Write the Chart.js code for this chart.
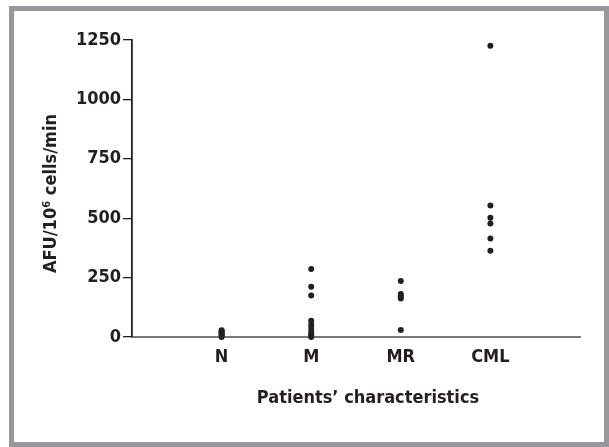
<!DOCTYPE html>
<html>
<head>
<meta charset="utf-8">
<script src="https://cdn.jsdelivr.net/npm/chart.js@4"></script>
<style>
  html, body { margin: 0; padding: 0; background: #fff; }
  #frame {
    position: absolute; left: 9px; top: 6px;
    width: 590px; height: 431px;
    border: 5px solid #98989c;
    background: #fff;
  }
  canvas { display: block; }
</style>
</head>
<body>
<div id="frame"><canvas id="chart" width="590" height="431"></canvas></div>
<script>
// groups on the x axis
const categories = ["N", "M", "MR", "CML"];
// AFU/10^6 cells/min
const valuesN = [0, 5, 10, 15, 20, 25, 28];
const valuesM = [286, 212, 175, 68, 52, 38, 22, 12, 5, 0];
const valuesMR = [236, 181, 172, 162, 29];
const valuesCML = [1226, 553, 502, 478, 415, 363];
const yTicks = [0, 250, 500, 750, 1000, 1250];

const INK = "#231f20";
const FONT = "'DejaVu Sans Condensed', 'Liberation Sans Narrow', 'Roboto', sans-serif";

const groups = [valuesN, valuesM, valuesMR, valuesCML];
const points = [];
groups.forEach((vals, i) => {
    vals.forEach(v => points.push({ x: i + 1, y: v }));
});

// axis titles drawn by hand so they sit where the original has them
const titlePlugin = {
    id: "axisTitles",
    afterDraw(chart) {
        const ctx = chart.ctx;
        const area = chart.chartArea;
        ctx.save();
        ctx.fillStyle = INK;
        ctx.font = "bold 18px " + FONT;
        ctx.textAlign = "center";
        ctx.textBaseline = "middle";
        ctx.fillText("Patients\u2019 characteristics", (area.left + area.right) / 2 + 12, area.bottom + 61);
        ctx.translate(37, (area.top + area.bottom) / 2 + 5);
        ctx.rotate(-Math.PI / 2);
        ctx.fillText("AFU/10\u2076 cells/min", 0, 0);
        ctx.restore();
    }
};

new Chart(document.getElementById("chart"), {
    type: "scatter",
    data: {
        datasets: [{
            data: points,
            backgroundColor: INK,
            borderColor: INK,
            borderWidth: 0,
            pointRadius: 3,
            pointHoverRadius: 3,
            clip: false
        }]
    },
    options: {
        responsive: false,
        animation: false,
        events: [],
        layout: { padding: { top: 29, right: 24, left: 0, bottom: 0 } },
        plugins: { legend: { display: false }, tooltip: { enabled: false } },
        scales: {
            x: {
                type: "linear",
                min: 0,
                max: 5,
                afterFit: s => { s.height = 105; },
                afterBuildTicks: s => { s.ticks = [0, 1, 2, 3, 4, 5].map(v => ({ value: v })); },
                grid: { display: false, drawTicks: false },
                border: { display: true, color: "#7a7a7a", width: 2 },
                ticks: {
                    autoSkip: false,
                    maxRotation: 0,
                    padding: 10,
                    color: INK,
                    font: { family: FONT, size: 18, weight: "bold" },
                    callback: v => categories[v - 1] || ""
                }
            },
            y: {
                min: 0,
                max: 1250,
                afterFit: s => { s.width = 118; },
                afterBuildTicks: s => { s.ticks = yTicks.map(v => ({ value: v })); },
                grid: { drawOnChartArea: false, drawTicks: true, tickLength: 9, color: INK, lineWidth: 1.3 },
                border: { display: true, color: INK, width: 1.8 },
                ticks: {
                    padding: 2,
                    color: INK,
                    font: { family: FONT, size: 18, weight: "bold" },
                    callback: v => String(v)
                }
            }
        }
    },
    plugins: [titlePlugin]
});
</script>
</body>
</html>
